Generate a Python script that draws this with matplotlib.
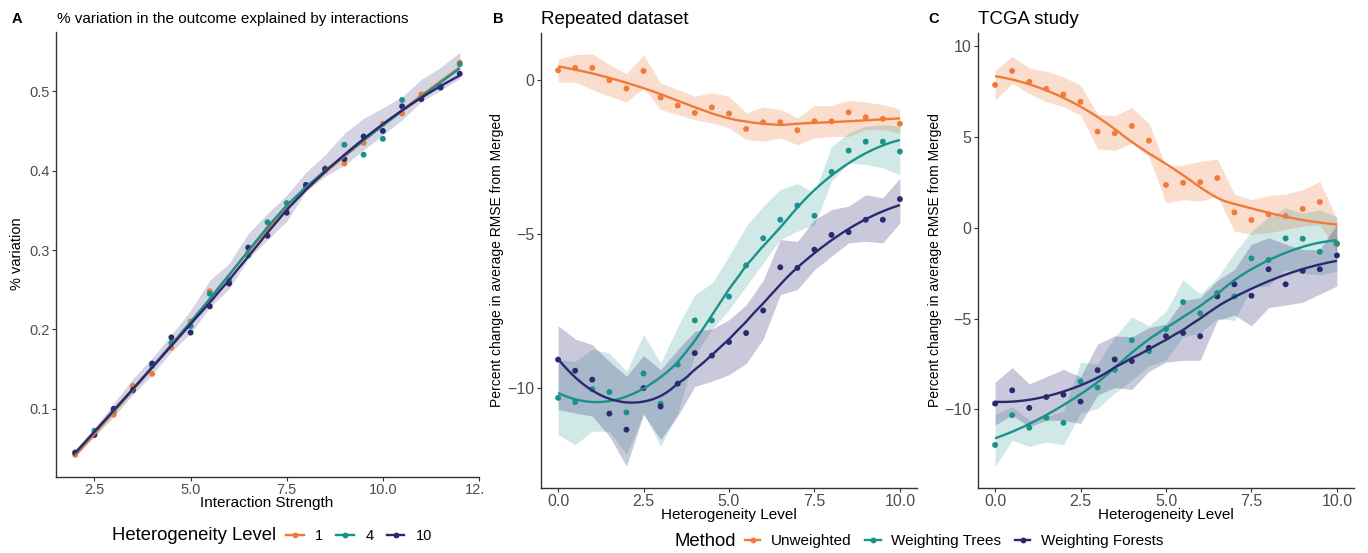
import numpy as np
import matplotlib
matplotlib.use("Agg")
import matplotlib.pyplot as plt
from matplotlib.lines import Line2D
from matplotlib.patches import Rectangle

plt.rcParams['font.family'] = ['Liberation Sans', 'DejaVu Sans']

# ---------------- data ----------------
# Panel A: % variation explained by interactions
interaction_strength = [2.0, 2.5, 3.0, 3.5, 4.0, 4.5, 5.0, 5.5, 6.0, 6.5, 7.0,
                        7.5, 8.0, 8.5, 9.0, 9.5, 10.0, 10.5, 11.0, 11.5, 12.0]
pv_level1 = [0.042, 0.069, 0.0925, 0.129, 0.144, 0.177, 0.210, 0.248, 0.260, 0.297, 0.326,
             0.352, 0.380, 0.403, 0.409, 0.435, 0.459, 0.472, 0.496, 0.506, 0.536]
pv_level4 = [0.044, 0.0724, 0.0967, 0.123, 0.154, 0.183, 0.204, 0.245, 0.262, 0.293, 0.335,
             0.359, 0.380, 0.400, 0.4325, 0.420, 0.440, 0.489, 0.492, 0.505, 0.534]
pv_level10 = [0.045, 0.067, 0.100, 0.124, 0.157, 0.190, 0.196, 0.229, 0.2577, 0.303, 0.318,
              0.347, 0.382, 0.402, 0.4146, 0.443, 0.450, 0.481, 0.490, 0.5046, 0.522]
pv_band_upper = [0.049, 0.076, 0.107, 0.138, 0.164, 0.193, 0.224, 0.262, 0.283, 0.321, 0.346,
                 0.369, 0.398, 0.420, 0.447, 0.466, 0.479, 0.493, 0.515, 0.530, 0.549]
pv_band_lower = [0.040, 0.065, 0.090, 0.118, 0.143, 0.172, 0.195, 0.228, 0.251, 0.289, 0.313,
                 0.336, 0.374, 0.393, 0.407, 0.426, 0.445, 0.464, 0.487, 0.501, 0.516]

# Panels B and C: heterogeneity level
heterogeneity = [0.0, 0.5, 1.0, 1.5, 2.0, 2.5, 3.0, 3.5, 4.0, 4.5, 5.0,
                 5.5, 6.0, 6.5, 7.0, 7.5, 8.0, 8.5, 9.0, 9.5, 10.0]

# Panel B: Repeated dataset
rep_unweighted = [0.30, 0.38, 0.38, -0.02, -0.29, 0.28, -0.58, -0.84, -1.08, -0.90, -1.10,
                  -1.60, -1.38, -1.38, -1.64, -1.35, -1.35, -1.06, -1.22, -1.27, -1.43]
rep_unweighted_hi = [0.67, 0.81, 0.84, 0.49, 0.19, 0.80, -0.11, -0.32, -0.54, -0.43, -0.54,
                     -1.08, -0.89, -0.97, -1.24, -0.84, -0.84, -0.67, -0.73, -0.81, -0.95]
rep_unweighted_lo = [-0.08, -0.08, -0.32, -0.54, -0.73, -0.27, -0.97, -1.13, -1.30, -1.40, -1.57,
                     -1.94, -2.00, -1.89, -2.11, -1.89, -1.84, -1.84, -1.62, -1.62, -1.73]
rep_trees = [-10.31, -10.45, -10.03, -10.12, -10.78, -9.52, -10.50, -9.23, -7.80, -7.80, -7.03,
             -6.02, -5.14, -4.54, -4.08, -4.41, -2.99, -2.30, -2.01, -2.01, -2.33]
rep_trees_hi = [-9.07, -9.13, -8.73, -8.86, -9.45, -8.26, -9.18, -8.00, -6.97, -6.59, -5.72,
                -4.75, -4.10, -3.56, -3.37, -3.67, -2.16, -1.73, -1.51, -1.46, -1.51]
rep_trees_lo = [-11.50, -11.83, -11.39, -11.39, -12.15, -10.80, -11.88, -10.80, -8.90, -8.10, -7.45,
                -6.70, -5.94, -5.18, -4.91, -4.70, -3.29, -2.70, -2.75, -2.86, -3.08]
rep_forests = [-9.07, -9.43, -9.72, -10.82, -11.34, -9.99, -10.59, -9.85, -8.86, -8.94, -8.50,
               -8.21, -7.48, -6.08, -6.10, -5.51, -5.03, -4.94, -4.54, -4.54, -3.87]
rep_forests_hi = [-7.97, -8.40, -8.59, -9.13, -9.61, -8.94, -9.40, -8.75, -8.15, -8.08, -7.78,
                  -7.30, -6.50, -5.18, -5.24, -4.54, -4.21, -4.10, -3.73, -3.83, -3.19]
rep_forests_lo = [-10.69, -10.80, -10.90, -11.55, -12.53, -10.85, -11.66, -10.90, -9.94, -9.77, -9.56,
                  -9.20, -8.40, -6.97, -6.80, -6.16, -5.72, -5.29, -5.24, -5.29, -4.64]

# Panel C: TCGA study
tcga_unweighted = [7.87, 8.64, 8.04, 7.65, 7.34, 6.94, 5.30, 5.21, 5.61, 4.80, 2.36,
                   2.48, 2.52, 2.74, 0.85, 0.43, 0.74, 0.65, 1.04, 1.42, -0.90]
tcga_unweighted_hi = [8.68, 9.44, 8.80, 8.62, 8.31, 7.85, 6.25, 6.17, 6.63, 5.75, 3.38,
                      3.47, 3.65, 3.80, 1.86, 1.55, 1.77, 1.86, 2.10, 2.56, 0.50]
tcga_unweighted_lo = [7.03, 7.95, 7.40, 6.94, 6.67, 6.21, 4.35, 4.26, 4.66, 3.93, 1.37,
                      1.55, 1.46, 1.74, -0.18, -0.37, -0.27, -0.09, 0.09, 0.18, -1.28]
tcga_trees = [-11.96, -10.32, -11.01, -10.46, -10.74, -8.46, -8.80, -7.82, -6.19, -6.79, -5.57,
              -4.09, -4.71, -3.60, -3.78, -1.68, -1.77, -0.58, -0.60, -1.32, -0.86]
tcga_trees_hi = [-10.30, -9.86, -10.60, -10.40, -10.10, -7.40, -7.50, -6.00, -4.90, -5.40, -4.60,
                 -2.85, -3.65, -2.75, -1.40, -0.20, 0.60, 1.10, 0.80, 1.00, 0.60]
tcga_trees_lo = [-13.15, -11.70, -12.05, -11.80, -11.95, -10.20, -9.95, -9.10, -8.40, -7.60, -7.30,
                 -6.00, -5.80, -5.00, -5.10, -3.30, -3.20, -2.30, -2.50, -2.60, -2.40]
tcga_forests = [-9.68, -8.95, -9.92, -9.32, -9.19, -9.57, -7.84, -7.25, -7.34, -6.61, -5.97,
                -5.79, -5.97, -3.78, -3.11, -3.74, -2.28, -3.11, -2.37, -2.28, -1.52]
tcga_forests_hi = [-8.50, -7.70, -8.60, -8.20, -7.80, -8.20, -6.40, -5.95, -6.00, -5.50, -5.30,
                   -4.00, -3.85, -2.90, -2.30, -0.90, -0.55, -0.90, -1.20, -1.20, 0.20]
tcga_forests_lo = [-10.87, -10.30, -10.96, -10.60, -10.60, -10.78, -9.20, -8.80, -8.90, -7.90, -7.40,
                   -7.30, -7.30, -5.10, -4.80, -5.40, -4.40, -4.25, -4.10, -3.65, -3.20]

level_labels = ['1', '4', '10']
method_labels = ['Unweighted', 'Weighting Trees', 'Weighting Forests']

# ---------------- style ----------------
C_OR = '#F07A3A'
C_TE = '#18928A'
C_NV = '#2C2870'
TICK_COL = '#4D4D4D'
W, H = 1368, 553


def loess(x, y, xs, span=0.75):
    x = np.asarray(x, float)
    y = np.asarray(y, float)
    n = len(x)
    q = int(np.floor(n * span))
    out = []
    for x0 in xs:
        d = np.abs(x - x0)
        h = np.sort(d)[q - 1]
        w = np.clip(1 - (d / h) ** 3, 0, None) ** 3
        X = np.vstack([np.ones(n), x - x0, (x - x0) ** 2]).T
        sw = np.sqrt(w)
        beta = np.linalg.lstsq(X * sw[:, None], y * sw, rcond=None)[0]
        out.append(beta[0])
    return np.array(out)


fig = plt.figure(figsize=(W / 100, H / 100), dpi=100)


def px_axes(l, t, r, b):
    return fig.add_axes([l / W, 1 - b / H, (r - l) / W, (b - t) / H])


def style(ax, labelsize):
    for s in ['top', 'right']:
        ax.spines[s].set_visible(False)
    for s in ['left', 'bottom']:
        ax.spines[s].set_color('#333333')
        ax.spines[s].set_linewidth(1.0)
    ax.tick_params(axis='both', length=2.8, width=0.8, color='#333333',
                   labelcolor=TICK_COL, labelsize=labelsize, pad=1.8)


def draw_band(ax, x, lo, hi, color, alpha):
    ax.fill_between(x, lo, hi, color=color, alpha=alpha, linewidth=0, zorder=1)


def draw_points_lines(ax, x, y, color):
    ax.scatter(x, y, s=18, color=color, edgecolors='none', zorder=3)
    xs = np.linspace(min(x), max(x), 80)
    ax.plot(xs, loess(x, y, xs), color=color, lw=1.7, zorder=4, solid_capstyle='butt')


# ---------------- Panel A ----------------
axA = px_axes(56, 32, 479, 477)
draw_band(axA, interaction_strength, pv_band_lower, pv_band_upper, C_NV, 0.2)
for yv, c in [(pv_level1, C_OR), (pv_level4, C_TE), (pv_level10, C_NV)]:
    draw_points_lines(axA, interaction_strength, yv, c)
axA.set_xlim(1.5, 12.5)
axA.set_ylim(0.0141, 0.5746)
axA.set_xticks([2.5, 5.0, 7.5, 10.0, 12.5])
axA.set_xticklabels(['2.5', '5.0', '7.5', '10.0', '12.5'])
axA.set_yticks([0.1, 0.2, 0.3, 0.4, 0.5])
axA.set_yticklabels(['0.1', '0.2', '0.3', '0.4', '0.5'])
style(axA, 10.5)

# ---------------- Panel B ----------------
axB = px_axes(541, 33, 917, 488)
draw_band(axB, heterogeneity, rep_unweighted_lo, rep_unweighted_hi, C_OR, 0.25)
draw_band(axB, heterogeneity, rep_trees_lo, rep_trees_hi, C_TE, 0.2)
draw_band(axB, heterogeneity, rep_forests_lo, rep_forests_hi, C_NV, 0.25)
for yv, c in [(rep_unweighted, C_OR), (rep_trees, C_TE), (rep_forests, C_NV)]:
    draw_points_lines(axB, heterogeneity, yv, c)
axB.set_xlim(-0.5, 10.5)
axB.set_ylim(-13.23, 1.51)
axB.set_xticks([0, 2.5, 5, 7.5, 10])
axB.set_xticklabels(['0.0', '2.5', '5.0', '7.5', '10.0'])
axB.set_yticks([-10, -5, 0])
style(axB, 11.5)

# ---------------- Panel C ----------------
axC = px_axes(978, 33, 1354, 488)
draw_band(axC, heterogeneity, tcga_unweighted_lo, tcga_unweighted_hi, C_OR, 0.25)
draw_band(axC, heterogeneity, tcga_trees_lo, tcga_trees_hi, C_TE, 0.2)
draw_band(axC, heterogeneity, tcga_forests_lo, tcga_forests_hi, C_NV, 0.25)
for yv, c in [(tcga_unweighted, C_OR), (tcga_trees, C_TE), (tcga_forests, C_NV)]:
    draw_points_lines(axC, heterogeneity, yv, c)
axC.set_xlim(-0.5, 10.5)
axC.set_ylim(-14.33, 10.73)
axC.set_xticks([0, 2.5, 5, 7.5, 10])
axC.set_xticklabels(['0.0', '2.5', '5.0', '7.5', '10.0'])
axC.set_yticks([-10, -5, 0, 5, 10])
style(axC, 11.5)

# panel A is cropped at its right edge in the reference
fig.add_artist(Rectangle((484 / W, 1 - 500 / H), 12 / W, 25 / H, transform=fig.transFigure,
                         facecolor='white', edgecolor='none', zorder=10))


def ftext(x, y, s, **kw):
    return fig.text(x / W, 1 - y / H, s, **kw)


# titles and panel letters
ftext(12, 19, 'A', fontsize=10.5, fontweight='bold', va='center', ha='left')
ftext(57, 19, '% variation in the outcome explained by interactions', fontsize=11, va='center', ha='left')
ftext(493, 19, 'B', fontsize=10.5, fontweight='bold', va='center', ha='left')
ftext(541, 19, 'Repeated dataset', fontsize=13.5, va='center', ha='left')
ftext(928, 19, 'C', fontsize=10.5, fontweight='bold', va='center', ha='left')
ftext(978, 19, 'TCGA study', fontsize=13.5, va='center', ha='left')

# axis titles
ftext(267, 503, 'Interaction Strength', fontsize=11, va='center', ha='center')
ftext(17, 254, '% variation', fontsize=10.5, rotation=90, va='center', ha='center')
ftext(729, 515, 'Heterogeneity Level', fontsize=11, va='center', ha='center')
ftext(497, 260, 'Percent change in average RMSE from Merged', fontsize=10, rotation=90,
      va='center', ha='center')
ftext(1166, 515, 'Heterogeneity Level', fontsize=11, va='center', ha='center')
ftext(935, 260, 'Percent change in average RMSE from Merged', fontsize=10, rotation=90,
      va='center', ha='center')

# legends
colors = [C_OR, C_TE, C_NV]


def handles():
    return [Line2D([], [], color=c, lw=1.7, marker='o', markersize=4.2, markeredgewidth=0)
            for c in colors]


ftext(112, 536, 'Heterogeneity Level', fontsize=13.3, va='center', ha='left')
fig.legend(handles(), level_labels, loc='center left', bbox_to_anchor=(286 / W, 1 - 536 / H),
           ncol=3, frameon=False, fontsize=10.5, handlelength=1.2, handletextpad=0.8,
           columnspacing=0.9, borderpad=0, borderaxespad=0)

ftext(675, 541, 'Method', fontsize=13.3, va='center', ha='left')
fig.legend(handles(), method_labels, loc='center left', bbox_to_anchor=(745 / W, 1 - 541 / H),
           ncol=3, frameon=False, fontsize=11, handlelength=1.0, handletextpad=0.7,
           columnspacing=0.9, borderpad=0, borderaxespad=0)

fig.savefig('out.png', dpi=100)
